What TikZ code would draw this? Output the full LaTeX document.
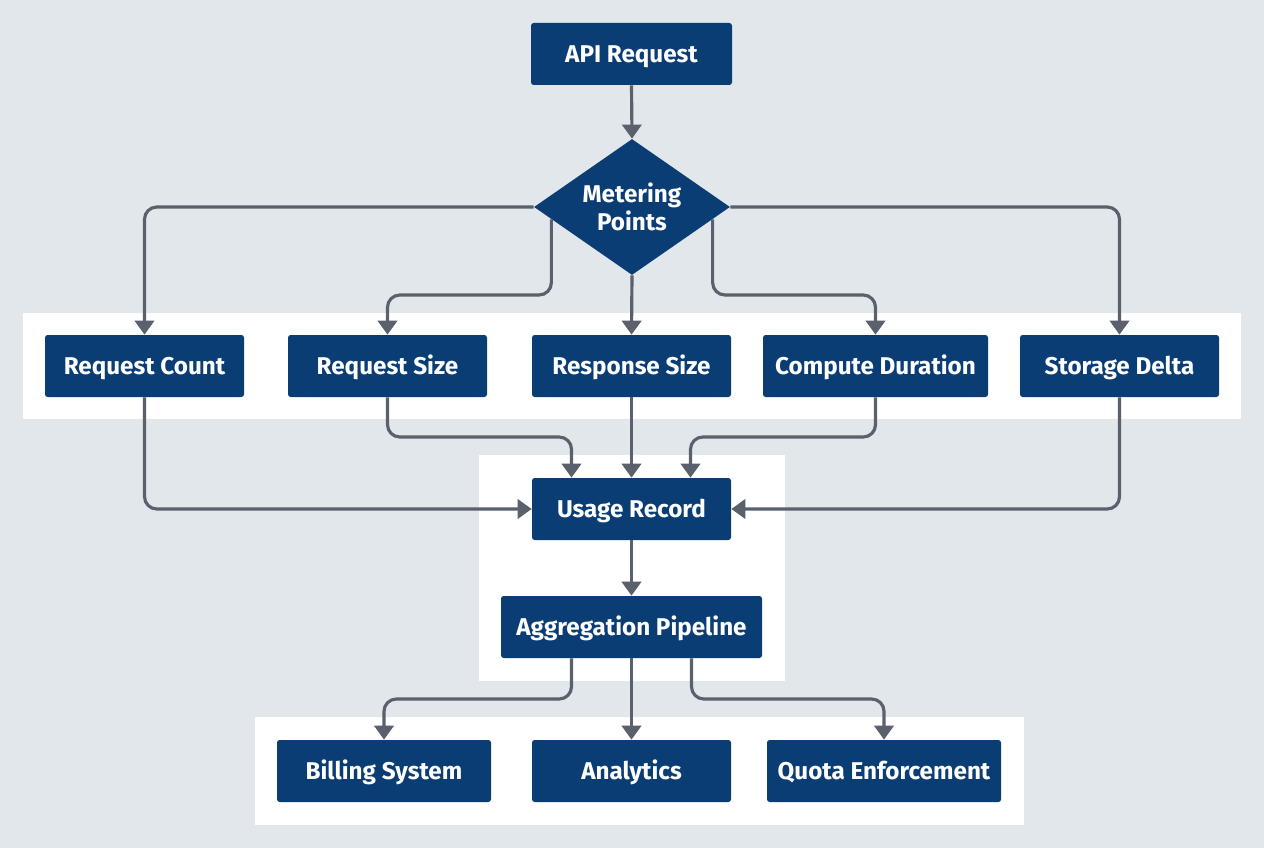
\documentclass[tikz,border=0pt]{standalone}
\usepackage{fontspec}
\setmainfont{Fira Sans}
\usetikzlibrary{shapes.geometric,arrows.meta,calc}

\definecolor{bgcol}{HTML}{E2E7EC}
\definecolor{boxcol}{HTML}{0B3D75}
\definecolor{linecol}{HTML}{5A606C}
\def\px{0.02cm}

\tikzset{
    box/.style={fill=boxcol, text=white, rounded corners=1.5pt, inner sep=0pt,
        font=\bfseries\fontsize{13.8}{16.5}\selectfont, minimum height=62*\px,
        text height=1.8ex, text depth=0ex},
    flow/.style={draw=linecol, line width=1.8pt, rounded corners=7pt,
        -{Triangle[width=11pt,length=8pt]}},
}

\begin{document}
\begin{tikzpicture}[x=0.02cm,y=-0.02cm]
    % background and panels
    \fill[bgcol] (0,0) rectangle (1264,848);
    \useasboundingbox (0,0) rectangle (1264,848);
    \fill[white] (23,313) rectangle (1241,419);
    \fill[white] (479,455) rectangle (785,681);
    \fill[white] (255,717) rectangle (1024,825);

    \coordinate (split1) at (0,295);
    \coordinate (merge1) at (0,437);
    \coordinate (split2) at (0,699);

    % nodes
    \node[box, minimum width=201*\px] (api) at (631.5,54) {API Request};
    \node[diamond, aspect=1.44, fill=boxcol, text=white, inner sep=0pt, align=center,
        minimum width=196*\px, minimum height=136*\px,
        font=\bfseries\fontsize{13.8}{16}\selectfont] (mp) at (632,207) {Metering\\Points};

    \node[box, minimum width=199*\px] (rc) at (144.5,366) {Request Count};
    \node[box, minimum width=199*\px] (rqs) at (387.5,366) {Request Size};
    \node[box, minimum width=199*\px] (rss) at (631.5,366) {Response Size};
    \node[box, minimum width=225*\px] (cd) at (875.5,366) {Compute Duration};
    \node[box, minimum width=199*\px] (sd) at (1119.5,366) {Storage Delta};

    \node[box, minimum width=199*\px] (ur) at (631.5,509) {Usage Record};
    \node[box, minimum width=261*\px] (ap) at (631.5,627) {Aggregation Pipeline};

    \node[box, minimum width=214*\px] (bs) at (384,771) {Billing System};
    \node[box, minimum width=199*\px] (an) at (631.5,771) {Analytics};
    \node[box, minimum width=234*\px] (qe) at (884,771) {Quota Enforcement};

    \coordinate (mpl) at ($(mp.west)!0.18!(mp.south)$);
    \coordinate (mpr) at ($(mp.east)!0.18!(mp.south)$);
    \coordinate (apl) at ($(ap.south)+(-60,0)$);
    \coordinate (apr) at ($(ap.south)+(60,0)$);

    % connectors
    \draw[flow] (api.south) -- (mp.north);
    \draw[flow] (mp.west) -| (rc.north);
    \draw[flow] (mpl) -- (mpl |- split1) -| (rqs.north);
    \draw[flow] (mp.south) -- (rss.north);
    \draw[flow] (mpr) -- (mpr |- split1) -| (cd.north);
    \draw[flow] (mp.east) -| (sd.north);

    \draw[flow] (rc.south) |- (ur.west);
    \draw[flow] (rqs.south) -- (rqs.south |- merge1) -| ($(ur.north)+(-60,0)$);
    \draw[flow] (rss.south) -- (ur.north);
    \draw[flow] (cd.south) -- (cd.south |- merge1) -| ($(ur.north)+(59,0)$);
    \draw[flow] (sd.south) |- (ur.east);

    \draw[flow] (ur.south) -- (ap.north);
    \draw[flow] (apl) -- (apl |- split2) -| (bs.north);
    \draw[flow] (ap.south) -- (an.north);
    \draw[flow] (apr) -- (apr |- split2) -| (qe.north);
\end{tikzpicture}
\end{document}
